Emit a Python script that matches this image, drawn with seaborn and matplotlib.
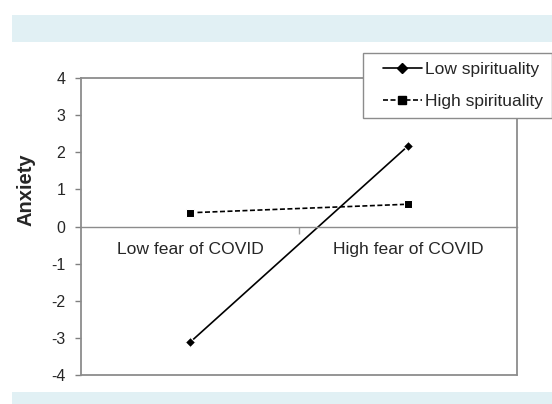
import matplotlib
matplotlib.use("Agg")
import matplotlib.pyplot as plt
import seaborn as sns
import pandas as pd
import numpy as np
from matplotlib.patches import Rectangle
from matplotlib.lines import Line2D
from matplotlib.legend_handler import HandlerLine2D

categories = ["Low fear of COVID", "High fear of COVID"]
series_names = ["Low spirituality", "High spirituality"]
low_spirituality = [-3.12, 2.17]
high_spirituality = [0.37, 0.60]
y_ticks = [-4, -3, -2, -1, 0, 1, 2, 3, 4]

rows = []
for i, c in enumerate(categories):
    rows.append({"pos": i, "cat": c, "series": series_names[0], "val": low_spirituality[i]})
    rows.append({"pos": i, "cat": c, "series": series_names[1], "val": high_spirituality[i]})
df = pd.DataFrame(rows)

sns.set_style("white")
plt.rcParams["font.family"] = ["Liberation Sans", "DejaVu Sans"]

fig = plt.figure(figsize=(5.52, 4.04), dpi=100)
# light blue bands
fig.patches.append(Rectangle((12/552, 1-42/404), 1, 27/404, transform=fig.transFigure,
                             facecolor="#e1f0f4", edgecolor="none", zorder=0))
fig.patches.append(Rectangle((12/552, 0), 1, 12/404, transform=fig.transFigure,
                             facecolor="#e1f0f4", edgecolor="none", zorder=0))

L, R, T, B = 81, 517, 78, 375
ax = fig.add_axes([L/552, 1-B/404, (R-L)/552, (B-T)/404])

sns.lineplot(data=df, x="pos", y="val", hue="series", style="series",
             palette={series_names[0]: "black", series_names[1]: "black"},
             markers={series_names[0]: "D", series_names[1]: "s"},
             dashes={series_names[0]: "", series_names[1]: (3, 1.5)},
             markersize=6, linewidth=1.2, ax=ax, legend=False)
for ln in ax.lines:
    if ln.get_marker() == "D":
        ln.set_markersize(5)

ax.set_xlim(-0.5, 1.5)
ax.set_ylim(-4, 4)
ax.set_yticks(y_ticks)
ax.set_yticklabels([str(v) for v in y_ticks], fontsize=11.5)
ax.tick_params(axis="y", direction="out", length=4.3, width=1, color="#808080",
               left=True, pad=7)

gray = "#8c8c8c"
for s in ["left", "right", "top"]:
    ax.spines[s].set_color(gray)
    ax.spines[s].set_linewidth(1.3)
ax.spines["bottom"].set_position(("data", 0))
ax.spines["bottom"].set_color(gray)
ax.spines["bottom"].set_linewidth(1.0)
ax.axhline(-4, color=gray, lw=1.3, clip_on=False, zorder=5)

ax.set_xticks([0, 1])
ax.set_xticklabels(categories, fontsize=12.6)
ax.set_xticks([0.5], minor=True)
ax.tick_params(axis="x", which="major", length=0, pad=11)
ax.tick_params(axis="x", which="minor", direction="out", length=5, width=1,
               color="#a0a0a0", bottom=True)
ax.set_xlabel("")
ax.set_ylabel("Anxiety", fontsize=14.5, fontweight="bold")
ax.yaxis.set_label_coords((35 - L) / (R - L), (B - 190) / (B - T))


class ShiftedHandler(HandlerLine2D):
    def get_xdata(self, legend, xdescent, ydescent, width, height, fontsize):
        x0 = -xdescent + width * 0.22
        x1 = -xdescent + width
        return np.array([x0, x1]), np.array([(x0 + x1) / 2])


handles = [Line2D([], [], color="black", lw=1.2, marker="D", markersize=5),
           Line2D([], [], color="black", lw=1.2, ls=(0, (3, 1.5)), marker="s", markersize=6)]
leg = fig.legend(handles, series_names, loc="upper left",
                 bbox_to_anchor=(363/552, 1-53/404), fontsize=12.5, frameon=True,
                 fancybox=False, edgecolor=gray, framealpha=1, borderpad=0.5,
                 handlelength=2.9, handletextpad=0.17, labelspacing=1.0,
                 borderaxespad=0, handler_map={Line2D: ShiftedHandler()})
leg.get_frame().set_linewidth(1.0)

fig.savefig("out.png", dpi=100)
